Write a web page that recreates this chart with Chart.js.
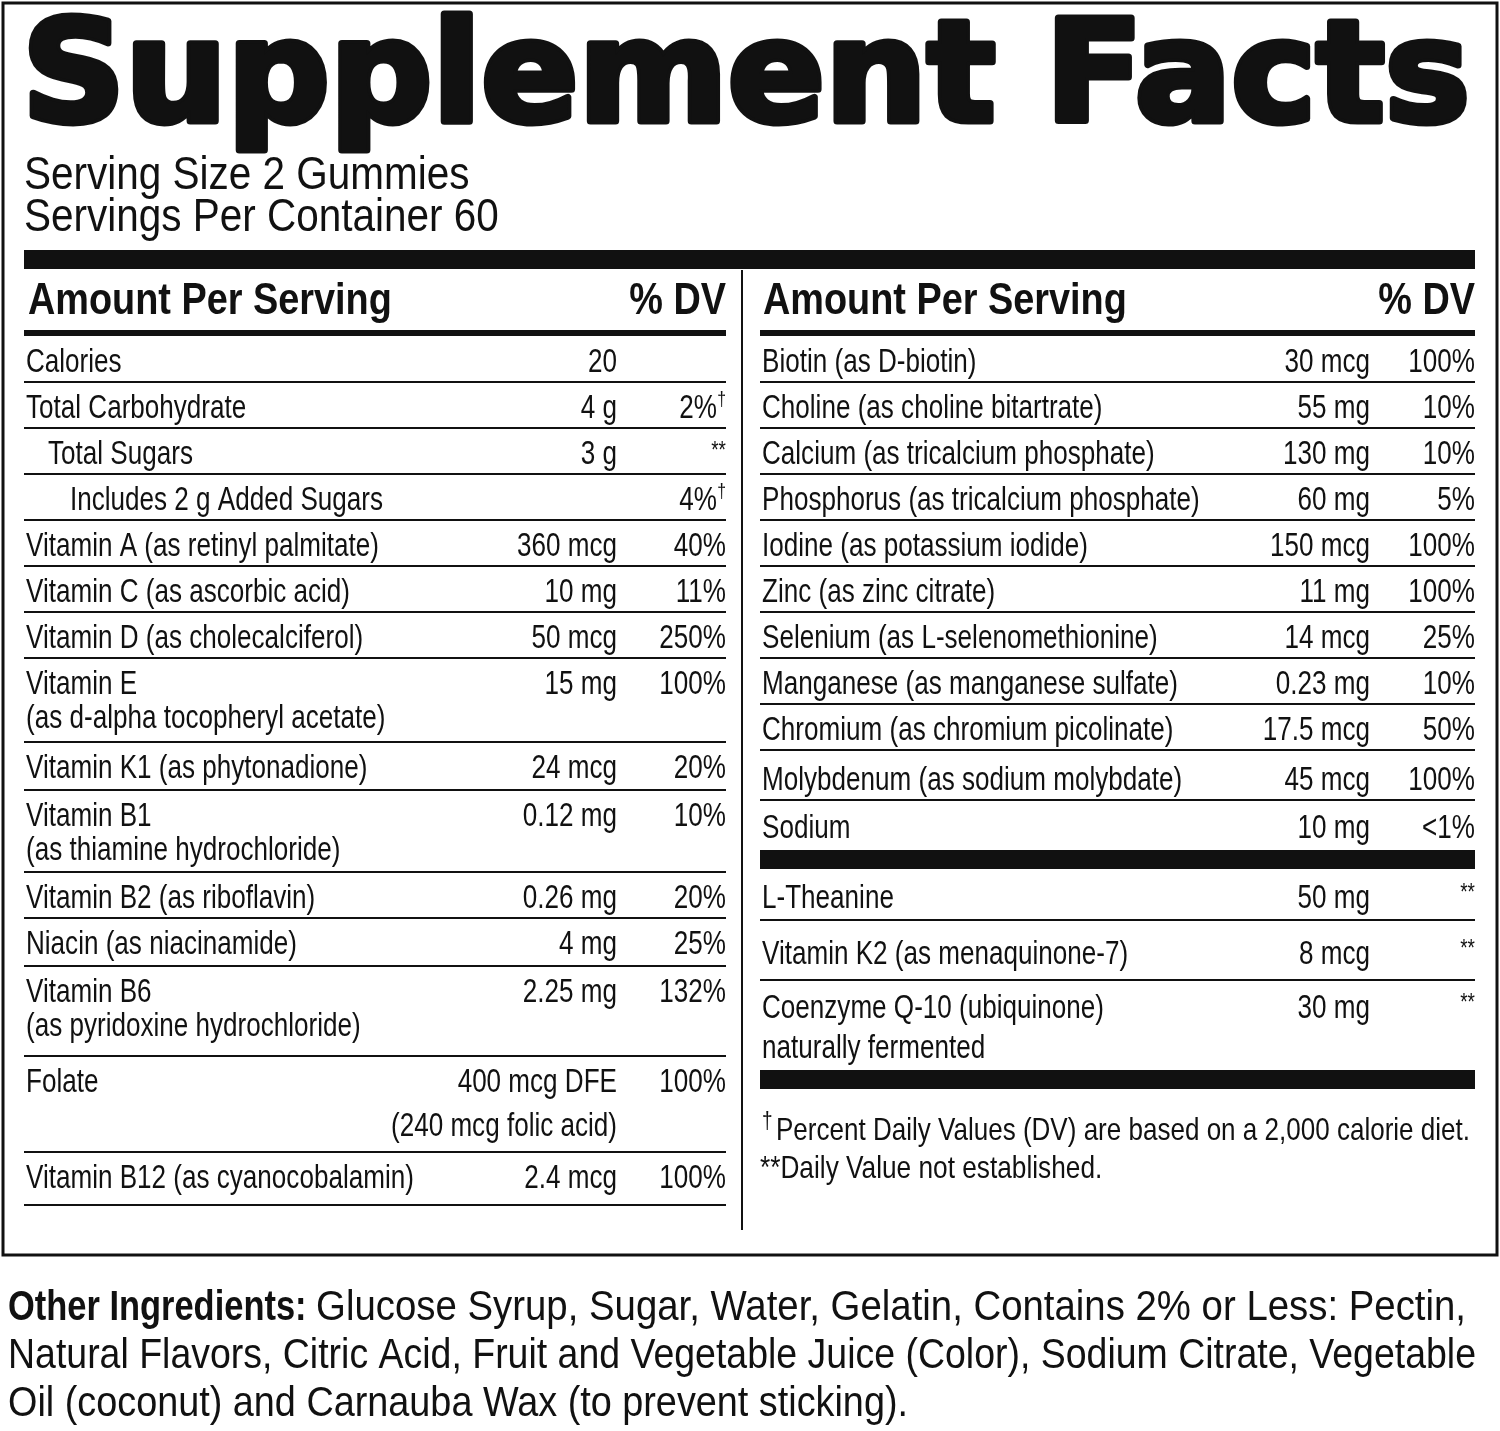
<!DOCTYPE html>
<html>
<head>
<meta charset="utf-8">
<script src="https://cdn.jsdelivr.net/npm/chart.js@4/dist/chart.umd.min.js"></script>
<style>
  html, body { margin: 0; padding: 0; background: #fff; }
  #wrap { width: 1500px; height: 1431px; }
</style>
</head>
<body>
<div id="wrap"><canvas id="facts"></canvas></div>
<script>
// left column rows
const leftNames = ['Calories', 'Total Carbohydrate', 'Total Sugars', 'Includes 2 g Added Sugars',
  'Vitamin A (as retinyl palmitate)', 'Vitamin C (as ascorbic acid)', 'Vitamin D (as cholecalciferol)',
  'Vitamin E', 'Vitamin K1 (as phytonadione)', 'Vitamin B1', 'Vitamin B2 (as riboflavin)',
  'Niacin (as niacinamide)', 'Vitamin B6', 'Folate', 'Vitamin B12 (as cyanocobalamin)'];
const leftSub = ['', '', '', '', '', '', '', '(as d-alpha tocopheryl acetate)', '', '(as thiamine hydrochloride)',
  '', '', '(as pyridoxine hydrochloride)', '', ''];
const leftAmounts = ['20', '4 g', '3 g', '', '360 mcg', '10 mg', '50 mcg', '15 mg', '24 mcg', '0.12 mg',
  '0.26 mg', '4 mg', '2.25 mg', '400 mcg DFE', '2.4 mcg'];
const leftAmountSub = ['', '', '', '', '', '', '', '', '', '', '', '', '', '(240 mcg folic acid)', ''];
const leftDV = ['', '2%†', '**', '4%†', '40%', '11%', '250%', '100%', '20%', '10%', '20%', '25%', '132%', '100%', '100%'];
const leftIndent = [0, 0, 1, 2, 0, 0, 0, 0, 0, 0, 0, 0, 0, 0, 0];
const leftHeights = [46, 46, 46, 46, 46, 46, 46, 84, 48, 82, 46, 48, 90, 96, 53];

// right column rows
const rightNames = ['Biotin (as D-biotin)', 'Choline (as choline bitartrate)', 'Calcium (as tricalcium phosphate)',
  'Phosphorus (as tricalcium phosphate)', 'Iodine (as potassium iodide)', 'Zinc (as zinc citrate)',
  'Selenium (as L-selenomethionine)', 'Manganese (as manganese sulfate)', 'Chromium (as chromium picolinate)',
  'Molybdenum (as sodium molybdate)', 'Sodium'];
const rightAmounts = ['30 mcg', '55 mg', '130 mg', '60 mg', '150 mcg', '11 mg', '14 mcg', '0.23 mg', '17.5 mcg', '45 mcg', '10 mg'];
const rightDV = ['100%', '10%', '10%', '5%', '100%', '100%', '25%', '10%', '50%', '100%', '<1%'];
const rightHeights = [46, 46, 46, 46, 46, 46, 46, 46, 46, 50, 48];

const otherNames = ['L-Theanine', 'Vitamin K2 (as menaquinone-7)', 'Coenzyme Q-10 (ubiquinone)'];
const otherSub = ['', '', 'naturally fermented'];
const otherAmounts = ['50 mg', '8 mcg', '30 mg'];
const otherDV = ['**', '**', '**'];
const otherHeights = [50, 60, 88];

const servingLines = ['Serving Size 2 Gummies', 'Servings Per Container 60'];
const footnotes = ['Percent Daily Values (DV) are based on a 2,000 calorie diet.', '**Daily Value not established.'];
const ingredientLines = [
  'Glucose Syrup, Sugar, Water, Gelatin, Contains 2% or Less: Pectin,',
  'Natural Flavors, Citric Acid, Fruit and Vegetable Juice (Color), Sodium Citrate, Vegetable',
  'Oil (coconut) and Carnauba Wax (to prevent sticking).'];

const SANS = '"Liberation Sans", Arial, sans-serif';

const labelPlugin = {
  id: 'label',
  afterDraw(chart) {
    const ctx = chart.ctx;
    const sx = chart.scales.x, sy = chart.scales.y;
    const X = v => sx.getPixelForValue(v);
    const Y = v => sy.getPixelForValue(v);
    ctx.save();
    ctx.fillStyle = '#111';
    ctx.strokeStyle = '#111';

    // draws text condensed horizontally by sc
    function text(s, x, y, font, align, sc, maxW) {
      ctx.save();
      ctx.font = font;
      ctx.textAlign = align || 'left';
      ctx.textBaseline = 'alphabetic';
      ctx.translate(X(x), Y(y));
      ctx.scale(sc || 1, 1);
      if (maxW) ctx.fillText(s, 0, 0, maxW / (sc || 1)); else ctx.fillText(s, 0, 0);
      ctx.restore();
    }
    function hline(x1, x2, y, w) {
      ctx.fillRect(X(x1), Y(y), X(x2) - X(x1), w);
    }

    // border
    ctx.lineWidth = 3;
    ctx.strokeRect(X(3), Y(3), X(1497) - X(3), Y(1255) - Y(3));

    // title stretched to width, emboldened
    ctx.font = 'bold 140px "DejaVu Sans", sans-serif';
    const tw = ctx.measureText('Supplement Facts').width;
    ctx.save();
    ctx.translate(X(22), Y(121));
    ctx.scale((1470 - 22) / tw, 1);
    ctx.textAlign = 'left';
    ctx.lineWidth = 7;
    ctx.lineJoin = 'round';
    ctx.strokeText('Supplement Facts', 0, 0);
    ctx.fillText('Supplement Facts', 0, 0);
    ctx.restore();

    servingLines.forEach((s, i) => text(s, 24, 189 + i * 42, '46px ' + SANS, 'left', 0.88));

    hline(24, 1475, 250, 19);

    // headers
    const H = 'bold 44px ' + SANS;
    text('Amount Per Serving', 28, 314, H, 'left', 0.86);
    text('% DV', 726, 314, H, 'right', 0.86);
    text('Amount Per Serving', 763, 314, H, 'left', 0.86);
    text('% DV', 1475, 314, H, 'right', 0.86);
    hline(24, 726, 330, 6);
    hline(760, 1475, 330, 6);
    ctx.fillRect(X(741), Y(270), 2, Y(1230) - Y(270));

    const F = '33px ' + SANS;
    const C = 0.79;
    const S = '24px ' + SANS;
    // left column
    let top = 336;
    leftNames.forEach((n, i) => {
      const h = leftHeights[i];
      const base = top + 36;
      text(n, 26 + leftIndent[i] * 22, base, F, 'left', C);
      if (leftSub[i]) text(leftSub[i], 26, base + 34, F, 'left', C);
      text(leftAmounts[i], 617, base, F, 'right', C);
      if (leftAmountSub[i]) text(leftAmountSub[i], 617, base + 44, F, 'right', C);
      const dv = leftDV[i];
      if (dv === '**') text(dv, 726, base - 6, S, 'right', C);
      else if (dv.endsWith('†')) {
        text('†', 726, base - 12, '20px ' + SANS, 'right', C);
        text(dv.slice(0, -1), 717, base, F, 'right', C);
      } else text(dv, 726, base, F, 'right', C);
      top += h;
      hline(24, 726, top - 1, 2);
    });

    // right column
    top = 336;
    rightNames.forEach((n, i) => {
      const h = rightHeights[i];
      const base = top + h - 10;
      text(n, 762, base, F, 'left', C);
      text(rightAmounts[i], 1370, base, F, 'right', C);
      text(rightDV[i], 1475, base, F, 'right', C);
      top += h;
      if (i < rightNames.length - 1) hline(760, 1475, top - 1, 2);
    });
    hline(760, 1475, top + 2, 19);
    top += 22;
    otherNames.forEach((n, i) => {
      const h = otherHeights[i];
      const base = top + (i === 1 ? 44 : 38);
      text(n, 762, base, F, 'left', C);
      if (otherSub[i]) text(otherSub[i], 762, base + 40, F, 'left', C);
      text(otherAmounts[i], 1370, base, F, 'right', C);
      text(otherDV[i], 1475, base - 8, S, 'right', C);
      top += h;
      if (i < otherNames.length - 1) hline(760, 1475, top - 1, 2);
    });
    hline(760, 1475, 1070, 19);

    // footnotes
    text('†', 762, 1128, '24px ' + SANS, 'left', C);
    text(footnotes[0], 776, 1140, '32px ' + SANS, 'left', 0.82, 1470 - 776);
    text(footnotes[1], 760, 1178, '32px ' + SANS, 'left', 0.82);

    // other ingredients
    const lbl = 'Other Ingredients: ';
    ctx.font = 'bold 42px ' + SANS;
    const lw = ctx.measureText(lbl).width * 0.82;
    text(lbl, 8, 1320, 'bold 42px ' + SANS, 'left', 0.82);
    text(ingredientLines[0], 8 + lw, 1320, '42px ' + SANS, 'left', 1, 1466 - 8 - lw);
    text(ingredientLines[1], 8, 1368, '42px ' + SANS, 'left', 1, 1476 - 8);
    text(ingredientLines[2], 8, 1416, '42px ' + SANS, 'left', 1, 900);
    ctx.restore();
  }
};

new Chart(document.getElementById('facts'), {
  type: 'scatter',
  data: { datasets: [{ data: [], pointRadius: 0 }] },
  options: {
    responsive: true,
    maintainAspectRatio: false,
    animation: false,
    layout: { padding: 0 },
    plugins: { legend: { display: false }, tooltip: { enabled: false } },
    scales: {
      x: { type: 'linear', min: 0, max: 1500, display: false },
      y: { type: 'linear', min: 0, max: 1431, reverse: true, display: false }
    }
  },
  plugins: [labelPlugin]
});
</script>
</body>
</html>
